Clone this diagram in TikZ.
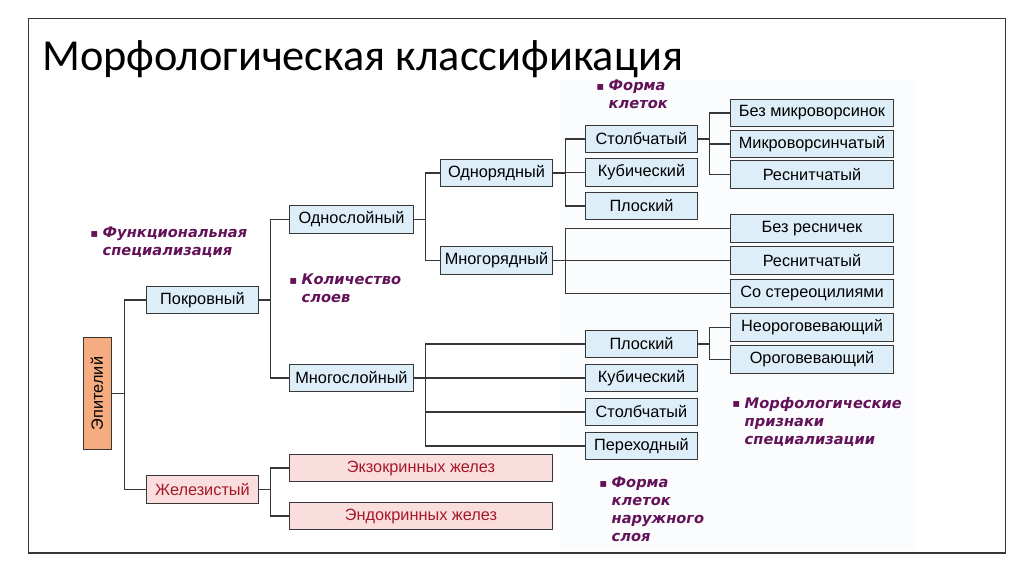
\documentclass[tikz,border=0pt]{standalone}
\usepackage{fontspec}
\usepackage{tikz}
\usepackage{xcolor}
\setmainfont{Liberation Sans}
\newfontfamily\titlefont{Carlito}
\newfontfamily\notefont{DejaVu Sans}
\usetikzlibrary{
    arrows.meta,
    positioning,
    calc,
    backgrounds
}
\definecolor{CellBlue}{RGB}{221,238,249}
\definecolor{GlandPink}{RGB}{250,222,222}
\definecolor{GlandRed}{RGB}{165,25,40}
\definecolor{EpiOrange}{RGB}{244,172,128}
\definecolor{NotePurple}{RGB}{100,18,88}
\definecolor{LineGray}{RGB}{55,55,55}
\definecolor{PanelTint}{RGB}{250,252,254}
\newcommand{\notebullet}{\makebox[0.85em][l]{\raisebox{0.1ex}{\scalebox{0.8}{▪}}}}
\tikzset{
  cell/.style   = {draw=LineGray, line width=0.7pt, fill=CellBlue,
                   minimum width=2.78cm, minimum height=0.68cm,
                   inner sep=1pt, font=\fontsize{11.6}{13}\selectfont},
  layer/.style  = {cell, minimum width=3.08cm},
  wide/.style   = {cell, minimum width=4.05cm},
  gland/.style  = {cell, fill=GlandPink, text=GlandRed},
  link/.style   = {draw=LineGray, line width=0.8pt}
}
\begin{document}
\begin{tikzpicture}[
    x=0.025cm, y=-0.025cm,
    note/.style={anchor=north west, align=left, inner sep=0pt,
      text=NotePurple, font=\notefont\fontsize{10.4}{12.8}\selectfont\bfseries\itshape}
  ]
    \useasboundingbox (0,0) rectangle (1024,574);
    \fill[white] (0,0) rectangle (1024,574);
    \fill[PanelTint] (560,80) rectangle (915,550);
    \draw[LineGray, line width=0.6pt] (28,18) rectangle (1005,553);
    \draw[LineGray, line width=1.4pt] (28,553) -- (1005,553);

    \node[anchor=base west, inner sep=0pt, font=\titlefont\fontsize{31.5}{36}\selectfont] (title) at (42,70) {Морфологическая классификация};

    \node[cell, fill=EpiOrange, draw=LineGray, minimum width=0.7cm, minimum height=2.78cm] (epi) at (97,393.5) {\rotatebox{90}{Эпителий}};

    \node[cell] (pokr) at (202.5,300) {Покровный};
    \node[gland, minimum width=2.78cm] (zhel) at (202.5,489.5) {Железистый};

    \node[layer] (odnosl) at (351.5,219.5) {Однослойный};
    \node[layer] (mnogosl) at (351.5,378) {Многослойный};

    \node[cell] (odnor) at (496.5,173) {Однорядный};
    \node[cell] (mnogor) at (496.5,260.5) {Многорядный};

    \node[cell] (stolb1) at (641.5,139) {Столбчатый};
    \node[cell] (kub1) at (641.5,172.5) {Кубический};
    \node[cell] (plosk1) at (641.5,206) {Плоский};

    \node[wide] (bezmikro) at (812,113) {Без микроворсинок};
    \node[wide] (mikro) at (812,144) {Микроворсинчатый};
    \node[wide] (resn1) at (812,174.5) {Реснитчатый};

    \node[wide] (bezresn) at (812,228.5) {Без ресничек};
    \node[wide] (resn2) at (812,260.5) {Реснитчатый};
    \node[wide] (stereo) at (812,293.5) {Со стереоцилиями};

    \node[wide] (neorog) at (812,327.5) {Неороговевающий};
    \node[wide] (orog) at (812,359.5) {Ороговевающий};

    \node[cell] (plosk2) at (641.5,344) {Плоский};
    \node[cell] (kub2) at (641.5,378) {Кубический};
    \node[cell] (stolb2) at (641.5,412) {Столбчатый};
    \node[cell] (perekh) at (641.5,446) {Переходный};

    \node[gland, minimum width=6.55cm] (ekzo) at (421,468) {Экзокринных желез};
    \node[gland, minimum width=6.55cm] (endo) at (421,516) {Эндокринных желез};

    \node[note] (nforma) at (596,80) {\notebullet Форма\\\hspace*{0.85em}клеток};
    \node[note] (nfunk) at (90,227) {\notebullet Функциональная\\\hspace*{0.85em}специализация};
    \node[note] (nkol) at (289,274) {\notebullet Количество\\\hspace*{0.85em}слоев};
    \node[note] (nmorf) at (732,397) {\notebullet Морфологические\\\hspace*{0.85em}признаки\\\hspace*{0.85em}специализации};
    \node[note] (nnar) at (599,477) {\notebullet Форма\\\hspace*{0.85em}клеток\\\hspace*{0.85em}наружного\\\hspace*{0.85em}слоя};

    \draw[link] (epi.east) -- +(13,0) |- (pokr.west);
    \draw[link] (epi.east) -- +(13,0) |- (zhel.west);

    \draw[link] (pokr.east) -- +(12,0) |- (odnosl.west);
    \draw[link] (pokr.east) -- +(12,0) |- (mnogosl.west);

    \draw[link] (odnosl.east) -- +(12,0) |- (odnor.west);
    \draw[link] (odnosl.east) -- +(12,0) |- (mnogor.west);

    \draw[link] (odnor.east) -- +(13,0) |- (stolb1.west);
    \draw[link] (odnor.east) -- +(13,0) |- (kub1.west);
    \draw[link] (odnor.east) -- +(13,0) |- (plosk1.west);

    \draw[link] (stolb1.east) -- +(12,0) |- (bezmikro.west);
    \draw[link] (stolb1.east) -- +(12,0) |- (mikro.west);
    \draw[link] (stolb1.east) -- +(12,0) |- (resn1.west);

    \draw[link] (mnogor.east) -- +(13,0) |- (bezresn.west);
    \draw[link] (mnogor.east) -- +(13,0) |- (resn2.west);
    \draw[link] (mnogor.east) -- +(13,0) |- (stereo.west);

    \draw[link] (mnogosl.east) -- +(12,0) |- (plosk2.west);
    \draw[link] (mnogosl.east) -- +(12,0) |- (kub2.west);
    \draw[link] (mnogosl.east) -- +(12,0) |- (stolb2.west);
    \draw[link] (mnogosl.east) -- +(12,0) |- (perekh.west);

    \draw[link] (plosk2.east) -- +(12,0) |- (neorog.west);
    \draw[link] (plosk2.east) -- +(12,0) |- (orog.west);

    \draw[link] (zhel.east) -- +(12,0) |- (ekzo.west);
    \draw[link] (zhel.east) -- +(12,0) |- (endo.west);
  \end{tikzpicture}
\end{document}
